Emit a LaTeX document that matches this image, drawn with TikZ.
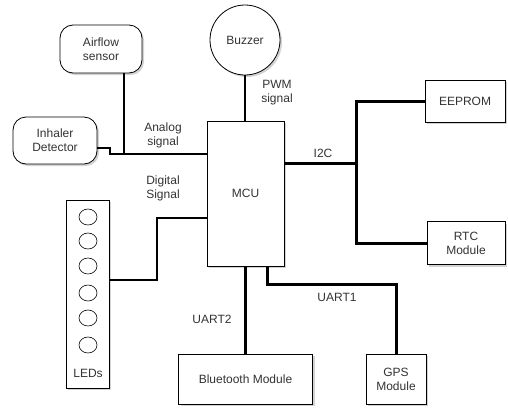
\documentclass[tikz,border=0pt]{standalone}
\usepackage{fontspec}
\setmainfont{Liberation Sans}
\usetikzlibrary{shadows,shapes.geometric}

\begin{document}
\begin{tikzpicture}[x=1pt,y=-1pt,
  every node/.style={font=\fontsize{12}{14}\selectfont,text=black!80,align=center},
  blk/.style={draw,fill=white,line width=.8pt,inner sep=0pt,
    drop shadow={shadow xshift=2pt,shadow yshift=-2pt,opacity=.35}},
  rblk/.style={blk,rounded corners=13pt},
  led/.style={draw,ellipse,line width=.6pt,minimum width=18,minimum height=16,inner sep=0pt},
  thin/.style={line width=1.3pt},
  thick/.style={line width=3pt}]
\useasboundingbox (0,0) rectangle (508,407);
% blocks
\node[rblk,minimum width=82,minimum height=48] (air) at (101,49) {Airflow\\sensor};
\node[rblk,minimum width=84,minimum height=47] (inh) at (55,140.5) {Inhaler\\Detector};
\node[blk,circle,minimum size=70] (buz) at (245,40) {Buzzer};
\node[blk,minimum width=77,minimum height=145] (mcu) at (245.5,193.5) {MCU};
\node[blk,minimum width=80,minimum height=42] (eep) at (465,101) {EEPROM};
\node[blk,minimum width=78,minimum height=43] (rtc) at (466,243) {RTC\\Module};
\node[blk,minimum width=60,minimum height=50] (gps) at (396,379) {GPS\\Module};
\node[blk,minimum width=134,minimum height=50] (bt) at (245.5,379) {Bluetooth Module};
\node[blk,minimum width=43,minimum height=188] (leds) at (87.5,294) {};
\foreach \i/\y in {1/217,2/241,3/266,4/293,5/318,6/345}
  \node[led] (led\i) at (88,\y) {};
\node (ledlbl) at (88,373) {LEDs};
% junctions
\coordinate (ana) at (124,154);
\coordinate (dig) at (157,218);
\coordinate (bus) at (356,163);
\coordinate (u1) at (396,284);
% connectors
\draw[thin] (buz.south) -- (mcu.north -| buz.south);
\draw[thin] (ana |- air.south) -- (ana);
\draw[thin] (inh.east |- 0,148) -- (110,148) -- (110,154) -- (mcu.west |- ana);
\draw[thin] (leds.east |- 0,280) -| (dig) -- (mcu.west |- dig);
\draw[thick] (mcu.east |- bus) -- (bus);
\draw[thick] (eep.west) -| (bus) |- (rtc.west);
\draw[thick] (mcu.south -| 267,0) |- (u1) -- (gps.north);
\draw[thick] (mcu.south) -- (bt.north);
% labels
\node (lana) at (163,135) {Analog\\signal};
\node (ldig) at (163,188) {Digital\\Signal};
\node (lpwm) at (277,93) {PWM\\signal};
\node (li2c) at (323,153) {I2C};
\node (lu1) at (337,297) {UART1};
\node (lu2) at (212,319) {UART2};
\end{tikzpicture}
\end{document}
